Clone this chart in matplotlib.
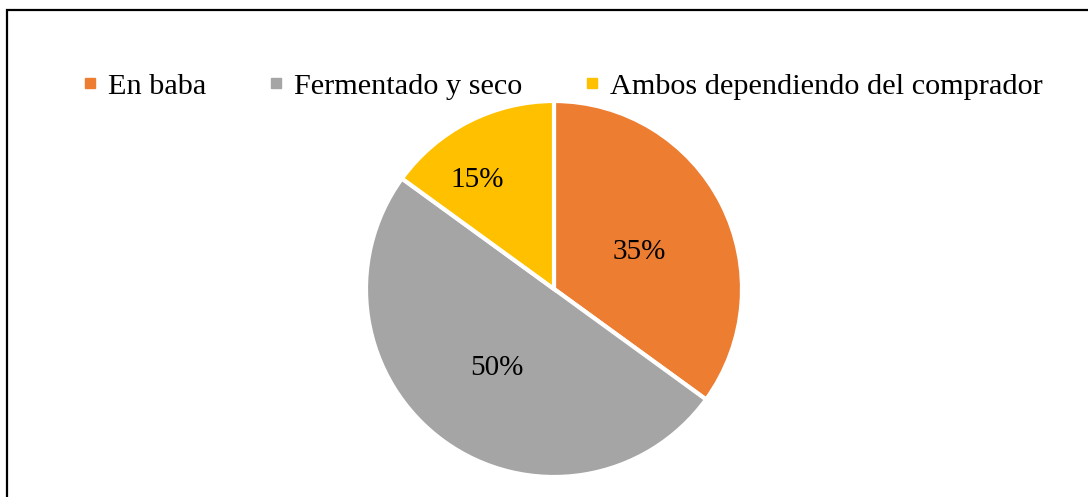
import matplotlib
matplotlib.use("Agg")
import matplotlib.pyplot as plt
from matplotlib.lines import Line2D
from matplotlib.patches import Rectangle
import numpy as np

categories = ["En baba", "Fermentado y seco", "Ambos dependiendo del comprador"]
values = [35, 50, 15]
colors = ["#ED7D31", "#A5A5A5", "#FFC000"]

# label placement (fraction of radius, angular offset from wedge middle in degrees)
label_dist = [0.502, 0.507, 0.72]
label_dang = [-1.9, -1.1, 7.5]

plt.rcParams['font.family'] = ['Liberation Serif', 'DejaVu Serif']

W, H = 1088, 497
fig = plt.figure(figsize=(W/100, H/100), dpi=100)
cx, cy, r = 554, 289, 188
ax = fig.add_axes([(cx - r)/W, (H - cy - r)/H, 2*r/W, 2*r/H])
wedges, texts, autotexts = ax.pie(values, colors=colors, startangle=90, counterclock=False,
                                  autopct='%1.0f%%', pctdistance=0.5,
                                  wedgeprops=dict(edgecolor='white', linewidth=3.0),
                                  textprops=dict(fontsize=21, color='black'))
for w, t, d, da in zip(wedges, autotexts, label_dist, label_dang):
    ang = np.deg2rad((w.theta1 + w.theta2) / 2 + da)
    t.set_position((d*np.cos(ang), d*np.sin(ang)))
    t.set_va('center_baseline')
ax.set_xlim(-1, 1); ax.set_ylim(-1, 1)
ax.set_aspect('equal')

fs = 21.8
handles = [Line2D([], [], marker='s', linestyle='none', markersize=7.8, color=c) for c in colors]
fig.legend(handles, categories, loc='center left', bbox_to_anchor=(81/W, 1 - 86/H), ncol=3,
           frameon=False, fontsize=fs, handletextpad=0.3, columnspacing=2.0,
           handlelength=0.6, borderaxespad=0, borderpad=0)

fig.add_artist(Rectangle((7/W, -0.2), 2, 1 - 10/H + 0.2, transform=fig.transFigure,
                         fill=False, edgecolor='black', linewidth=1.6))
fig.savefig("out.png", dpi=100)
